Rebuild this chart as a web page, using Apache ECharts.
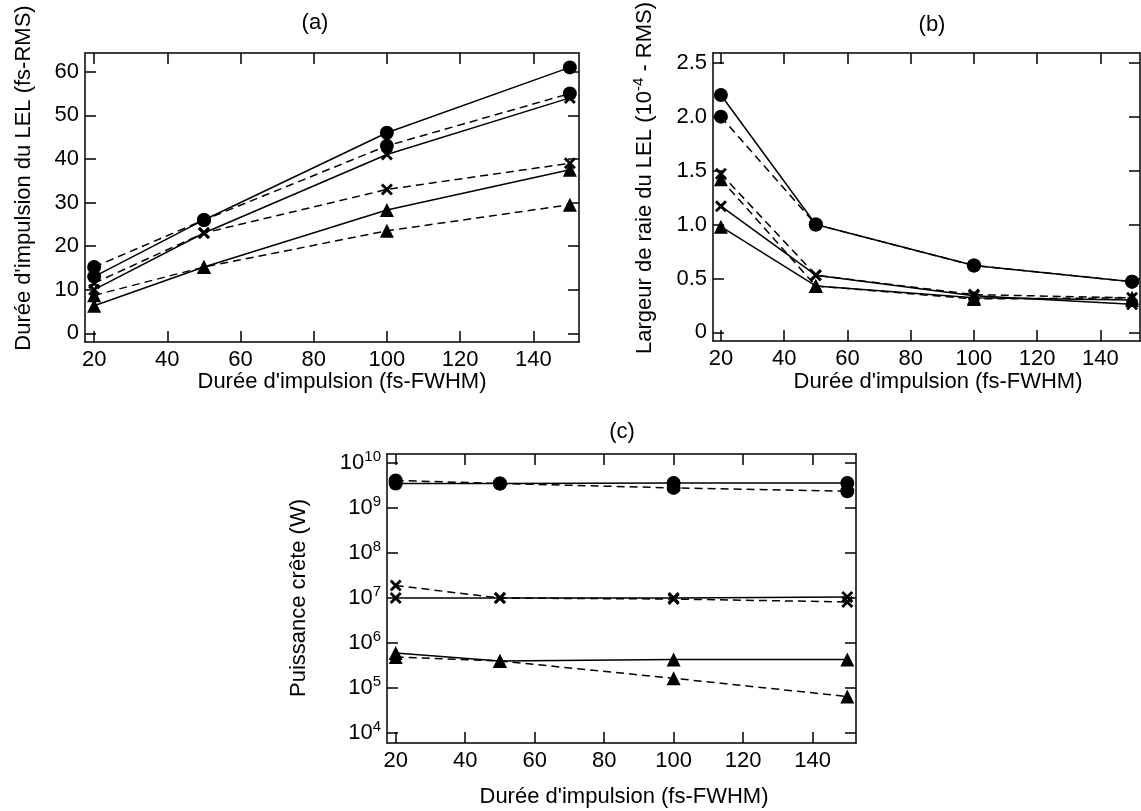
<!DOCTYPE html>
<html>
<head>
<meta charset="utf-8">
<script src="https://cdn.jsdelivr.net/npm/echarts@6/dist/echarts.min.js"></script>
<style>
html,body{margin:0;padding:0;background:#fff;}
#chart{width:1141px;height:811px;}
</style>
</head>
<body>
<div id="chart"></div>
<script>
// ---------------- DATA ----------------
const durations = [20, 50, 100, 150];               // Durée d'impulsion (fs-FWHM)
const xTickValues = [20, 40, 60, 80, 100, 120, 140];

// (a) Durée d'impulsion du LEL (fs-RMS)
const aCircleSolid  = [13, 26, 46, 61];
const aCircleDashed = [15.2, 26, 43, 55];
const aCrossSolid   = [10, 23, 41, 54];
const aCrossDashed  = [11.5, 23, 33, 39];
const aTriSolid     = [6.3, 15.2, 28.3, 37.5];
const aTriDashed    = [8.7, 15.2, 23.5, 29.5];
const aYTicks = [0, 10, 20, 30, 40, 50, 60];

// (b) Largeur de raie du LEL (1e-4 RMS)
const bCircleSolid  = [2.2, 1.0, 0.62, 0.47];
const bCircleDashed = [2.0, 1.0, 0.62, 0.47];
const bCrossSolid   = [1.17, 0.53, 0.34, 0.26];
const bCrossDashed  = [1.47, 0.53, 0.35, 0.32];
const bTriSolid     = [0.98, 0.43, 0.32, 0.30];
const bTriDashed    = [1.42, 0.43, 0.31, 0.32];
const bYTicks = [0, 0.5, 1.0, 1.5, 2.0, 2.5];

// (c) Puissance crête (W)
const cCircleSolid  = [3.5e9, 3.5e9, 3.6e9, 3.6e9];
const cCircleDashed = [4.1e9, 3.5e9, 2.8e9, 2.35e9];
const cCrossSolid   = [1.0e7, 1.0e7, 1.0e7, 1.05e7];
const cCrossDashed  = [1.9e7, 1.0e7, 9.5e6, 8.2e6];
const cTriSolid     = [6.0e5, 4.0e5, 4.3e5, 4.3e5];
const cTriDashed    = [4.9e5, 4.0e5, 1.65e5, 6.5e4];
const cYTicks = [1e4, 1e5, 1e6, 1e7, 1e8, 1e9, 1e10];

// ---------------- STYLE ----------------
const FONT = "'Liberation Sans', Arial, Helvetica, sans-serif";
const FS = 22;
const FS_SUP = 15;
const X_MIN = 17.5, X_MAX = 152.5;
const CROSS = 'path://M0,2L2,0L6,4L10,0L12,2L8,6L12,10L10,12L6,8L2,12L0,10L4,6Z';
const DASH = [8, 5];

const grids = [
  {left: 85,  top: 53,  width: 494, height: 289},
  {left: 713, top: 53,  width: 427, height: 288},
  {left: 387, top: 454, width: 469, height: 289}
];

const axisLineStyle = {show: true, onZero: false, lineStyle: {color: '#000', width: 1.5}};
function tickStyle(vals) {
  return {show: true, inside: true, length: 11, lineStyle: {color: '#000', width: 1.5}, customValues: vals};
}

const xAxes = [], yAxes = [];
function addAxes(gi, yOpts, yTicks, yFormatter, yRich) {
  xAxes.push({type: 'value', gridIndex: gi, position: 'bottom', min: X_MIN, max: X_MAX,
    axisLine: axisLineStyle, axisTick: tickStyle(xTickValues),
    axisLabel: {customValues: xTickValues, color: '#000', fontSize: FS, fontFamily: FONT, margin: 7},
    splitLine: {show: false}});
  xAxes.push({type: 'value', gridIndex: gi, position: 'top', min: X_MIN, max: X_MAX,
    axisLine: axisLineStyle, axisTick: tickStyle(xTickValues),
    axisLabel: {show: false}, splitLine: {show: false}});
  const base = Object.assign({gridIndex: gi, splitLine: {show: false}, axisLine: axisLineStyle}, yOpts);
  const lbl = {customValues: yTicks, color: '#000', fontSize: FS, fontFamily: FONT, margin: 6, formatter: yFormatter};
  if (yRich) lbl.rich = yRich;
  yAxes.push(Object.assign({}, base, {position: 'left', axisTick: tickStyle(yTicks), axisLabel: lbl}));
  yAxes.push(Object.assign({}, base, {position: 'right', axisTick: tickStyle(yTicks), axisLabel: {show: false}}));
}
addAxes(0, {type: 'value', min: -2, max: 64.3}, aYTicks, v => String(v));
addAxes(1, {type: 'value', min: -0.08, max: 2.59}, bYTicks, v => (v === 0 ? '0' : v.toFixed(1)));
addAxes(2, {type: 'log', min: Math.pow(10, 3.78), max: Math.pow(10, 10.2)}, cYTicks,
  v => '{b|10}{s|' + Math.round(Math.log10(v)) + '}',
  {b: {fontSize: FS, fontFamily: FONT, color: '#000'}, s: {fontSize: FS_SUP, fontFamily: FONT, color: '#000', padding: [0, 0, 12, 0]}});

function mk(gi, vals, symbol, dashed) {
  const isCross = symbol === 'cross';
  return {
    type: 'line', xAxisIndex: gi * 2, yAxisIndex: gi * 2,
    data: durations.map((x, i) => [x, vals[i]]),
    symbol: isCross ? CROSS : symbol,
    symbolSize: isCross ? 12 : 14,
    symbolKeepAspect: true,
    showAllSymbol: true,
    clip: false,
    lineStyle: {color: '#000', width: 1.5, type: dashed ? DASH : 'solid'},
    itemStyle: {color: '#000', borderWidth: 0},
    emphasis: {disabled: true},
    animation: false
  };
}
const series = [];
[[aCircleSolid, aCircleDashed, aCrossSolid, aCrossDashed, aTriSolid, aTriDashed],
 [bCircleSolid, bCircleDashed, bCrossSolid, bCrossDashed, bTriSolid, bTriDashed],
 [cCircleSolid, cCircleDashed, cCrossSolid, cCrossDashed, cTriSolid, cTriDashed]].forEach((set, gi) => {
  series.push(mk(gi, set[0], 'circle', false));
  series.push(mk(gi, set[1], 'circle', true));
  series.push(mk(gi, set[2], 'cross', false));
  series.push(mk(gi, set[3], 'cross', true));
  series.push(mk(gi, set[4], 'triangle', false));
  series.push(mk(gi, set[5], 'triangle', true));
});

function txt(x, y, text, rot, rich) {
  const st = {text: text, x: 0, y: 0, fill: '#000', fontSize: FS, fontFamily: FONT, align: 'center', verticalAlign: 'middle'};
  if (rich) st.rich = rich;
  return {type: 'text', x: x, y: y, rotation: rot ? Math.PI / 2 : 0, style: st, z: 100};
}
const graphics = [
  txt(315, 23, '(a)'),
  txt(932, 25, '(b)'),
  txt(622, 432, '(c)'),
  txt(342, 382, 'Durée d\'impulsion (fs-FWHM)'),
  txt(938, 382, 'Durée d\'impulsion (fs-FWHM)'),
  txt(624, 797, 'Durée d\'impulsion (fs-FWHM)'),
  txt(24, 178, 'Durée d\'impulsion du LEL (fs-RMS)', true),
  txt(645, 178, 'Largeur de raie du LEL (10{sup|-4} - RMS)', true,
      {sup: {fontSize: FS_SUP, fontFamily: FONT, fill: '#000', padding: [0, 0, 12, 0]}}),
  txt(299, 598, 'Puissance crête (W)', true)
];

const chart = echarts.init(document.getElementById('chart'), null, {renderer: 'canvas'});
chart.setOption({
  backgroundColor: '#fff',
  animation: false,
  grid: grids,
  xAxis: xAxes,
  yAxis: yAxes,
  series: series,
  graphic: graphics
});
</script>
</body>
</html>
